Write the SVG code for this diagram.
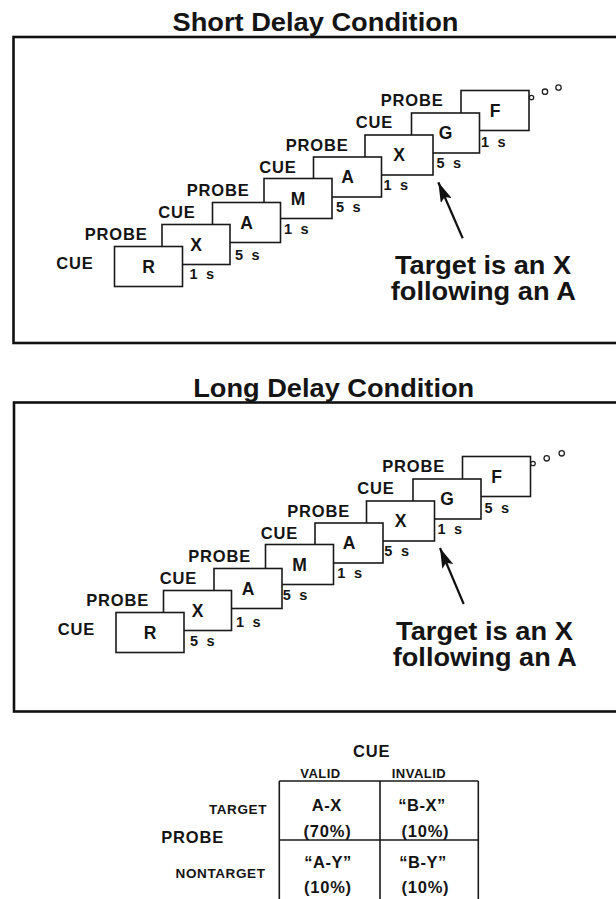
<svg xmlns="http://www.w3.org/2000/svg" width="616" height="899" viewBox="0 0 616 899">
<defs>
<style>
.t{font-family:"Liberation Sans",Arial,Helvetica,sans-serif;font-weight:bold;fill:#141414}
.title{font-size:25.5px;text-anchor:middle}
.lbl{font-size:16.5px;letter-spacing:0.8px;text-anchor:end}
.let{font-size:17.5px;text-anchor:middle}
.tm{font-size:14.5px;letter-spacing:1px;word-spacing:2.5px}
.big{font-size:26px;text-anchor:middle}
.box{fill:#fff;stroke:#1a1a1a;stroke-width:1.6}
.frame{fill:none;stroke:#111;stroke-width:2.6}
.dot{fill:#fff;stroke:#222;stroke-width:1.3}
.grid{stroke:#1a1a1a;stroke-width:1.6;fill:none}
.hd{font-size:16.5px;letter-spacing:0.8px;text-anchor:middle}
.col{font-size:13px;letter-spacing:0.5px;text-anchor:middle}
.row{font-size:13.5px;letter-spacing:0.6px;text-anchor:end}
.cell{font-size:16.5px;letter-spacing:0.5px;text-anchor:middle}
.pct{font-size:16.5px;letter-spacing:0.8px;text-anchor:middle}
.arr{stroke:#111;stroke-width:2.2;fill:none}
</style>
<marker id="ah" viewBox="0 0 20 12" refX="20" refY="6" markerWidth="20" markerHeight="12" markerUnits="userSpaceOnUse" orient="auto">
<path d="M0,0 L20,6 L0,12 L4,6 z" fill="#111"/>
</marker>
</defs>
<rect width="616" height="899" fill="#fff"/>

<!-- Short delay panel -->
<text class="t title" x="315.5" y="31" textLength="286" lengthAdjust="spacingAndGlyphs">Short Delay Condition</text>
<rect class="frame" x="13.5" y="37" width="620" height="306"/>
<g id="short">
  <g id="s-F"><rect class="box" x="461" y="90.5" width="68" height="40"/><text class="t let" x="495" y="116.5">F</text><text class="t lbl" x="443.5" y="106">PROBE</text></g>
  <g id="s-G"><rect class="box" x="411.5" y="113" width="68" height="40"/><text class="t let" x="445.5" y="139">G</text><text class="t lbl" x="393" y="128.3">CUE</text><text class="t tm" x="481" y="146.7">1 s</text></g>
  <g id="s-X2"><rect class="box" x="365" y="135" width="68" height="40"/><text class="t let" x="399" y="161">X</text><text class="t lbl" x="348.5" y="150.5">PROBE</text><text class="t tm" x="436.5" y="168.3">5 s</text></g>
  <g id="s-A2"><rect class="box" x="313.5" y="157" width="68" height="40"/><text class="t let" x="347.5" y="183">A</text><text class="t lbl" x="296.5" y="173.3">CUE</text><text class="t tm" x="383.5" y="190">1 s</text></g>
  <g id="s-M"><rect class="box" x="264" y="178.5" width="68" height="40"/><text class="t let" x="298" y="204.5">M</text><text class="t lbl" x="249.5" y="196">PROBE</text><text class="t tm" x="336" y="211.5">5 s</text></g>
  <g id="s-A"><rect class="box" x="212.5" y="202.5" width="68" height="40"/><text class="t let" x="246.5" y="228.5">A</text><text class="t lbl" x="195.5" y="218.3">CUE</text><text class="t tm" x="284" y="233.5">1 s</text></g>
  <g id="s-X"><rect class="box" x="162" y="224.5" width="68" height="40"/><text class="t let" x="196" y="250.5">X</text><text class="t lbl" x="147.5" y="240">PROBE</text><text class="t tm" x="235" y="260">5 s</text></g>
  <g id="s-R"><rect class="box" x="114.5" y="246.5" width="68" height="40"/><text class="t let" x="148.5" y="272.5">R</text><text class="t lbl" x="93.5" y="268.5">CUE</text><text class="t tm" x="189.5" y="279.3">1 s</text></g>
  <g id="s-more"><circle class="dot" cx="531.5" cy="97.5" r="2.2"/><circle class="dot" cx="545" cy="91.7" r="2.7"/><circle class="dot" cx="558.5" cy="87.5" r="2.7"/></g>
  <g id="s-note"><text class="t big" x="483" y="273.5" textLength="176" lengthAdjust="spacingAndGlyphs">Target is an X</text><text class="t big" x="483.3" y="299.5" textLength="185" lengthAdjust="spacingAndGlyphs">following an A</text></g>
  <g id="s-connectors"><line class="arr" x1="462.7" y1="238.3" x2="438.3" y2="182.3" marker-end="url(#ah)"/></g>
</g>

<!-- Long delay panel -->
<text class="t title" x="333.7" y="396.7" textLength="281" lengthAdjust="spacingAndGlyphs">Long Delay Condition</text>
<rect class="frame" x="14" y="402.5" width="620" height="309"/>
<g id="long" transform="translate(1.5,366)">
  <g id="l-F"><rect class="box" x="461" y="90.5" width="68" height="40"/><text class="t let" x="495" y="116.5">F</text><text class="t lbl" x="443.5" y="106">PROBE</text></g>
  <g id="l-G"><rect class="box" x="411.5" y="113" width="68" height="40"/><text class="t let" x="445.5" y="139">G</text><text class="t lbl" x="393" y="128.3">CUE</text><text class="t tm" x="483" y="146.5">5 s</text></g>
  <g id="l-X2"><rect class="box" x="365" y="135" width="68" height="40"/><text class="t let" x="399" y="161">X</text><text class="t lbl" x="348.5" y="150.5">PROBE</text><text class="t tm" x="436" y="168.3">1 s</text></g>
  <g id="l-A2"><rect class="box" x="313.5" y="157" width="68" height="40"/><text class="t let" x="347.5" y="183">A</text><text class="t lbl" x="296.5" y="173.3">CUE</text><text class="t tm" x="382.8" y="189.7">5 s</text></g>
  <g id="l-M"><rect class="box" x="264" y="178.5" width="68" height="40"/><text class="t let" x="298" y="204.5">M</text><text class="t lbl" x="249.5" y="196">PROBE</text><text class="t tm" x="335.8" y="212.3">1 s</text></g>
  <g id="l-A"><rect class="box" x="212.5" y="202.5" width="68" height="40"/><text class="t let" x="246.5" y="228.5">A</text><text class="t lbl" x="195.5" y="218.3">CUE</text><text class="t tm" x="281.2" y="234">5 s</text></g>
  <g id="l-X"><rect class="box" x="162" y="224.5" width="68" height="40"/><text class="t let" x="196" y="250.5">X</text><text class="t lbl" x="147.5" y="240">PROBE</text><text class="t tm" x="234.5" y="260.7">1 s</text></g>
  <g id="l-R"><rect class="box" x="114.5" y="246.5" width="68" height="40"/><text class="t let" x="148.5" y="272.5">R</text><text class="t lbl" x="93.5" y="268.5">CUE</text><text class="t tm" x="188.5" y="280">5 s</text></g>
  <g id="l-more"><circle class="dot" cx="531.5" cy="97.5" r="2.2"/><circle class="dot" cx="545.2" cy="92.3" r="2.7"/><circle class="dot" cx="560.2" cy="87.3" r="2.7"/></g>
  <g id="l-note"><text class="t big" x="483" y="273.5" textLength="177" lengthAdjust="spacingAndGlyphs">Target is an X</text><text class="t big" x="483.3" y="299.5" textLength="184" lengthAdjust="spacingAndGlyphs">following an A</text></g>
  <g id="l-connectors"><line class="arr" x1="462.2" y1="238" x2="438.5" y2="182" marker-end="url(#ah)"/></g>
</g>

<!-- Table -->
<g id="table">
  <text class="t hd" x="371.7" y="756.7">CUE</text>
  <text class="t col" x="320.5" y="778.3">VALID</text>
  <text class="t col" x="419" y="778.3">INVALID</text>
  <text class="t row" x="267" y="814">TARGET</text>
  <text class="t row" x="265.5" y="878.3">NONTARGET</text>
  <text class="t lbl" x="224" y="843.3">PROBE</text>
  <path class="grid" d="M279.3,781 H478.3 M279.3,840 H478.3 M279.3,781 V905 M380,781 V905 M478.3,781 V905"/>
  <text class="t cell" x="326.7" y="811">A-X</text>
  <text class="t pct" x="327.5" y="836.5">(70%)</text>
  <text class="t cell" x="422" y="811">“B-X”</text>
  <text class="t pct" x="425.4" y="836.5">(10%)</text>
  <text class="t cell" x="328" y="868.3">“A-Y”</text>
  <text class="t pct" x="327.9" y="893.3">(10%)</text>
  <text class="t cell" x="423" y="868.3">“B-Y”</text>
  <text class="t pct" x="425.4" y="893.3">(10%)</text>
</g>
</svg>
